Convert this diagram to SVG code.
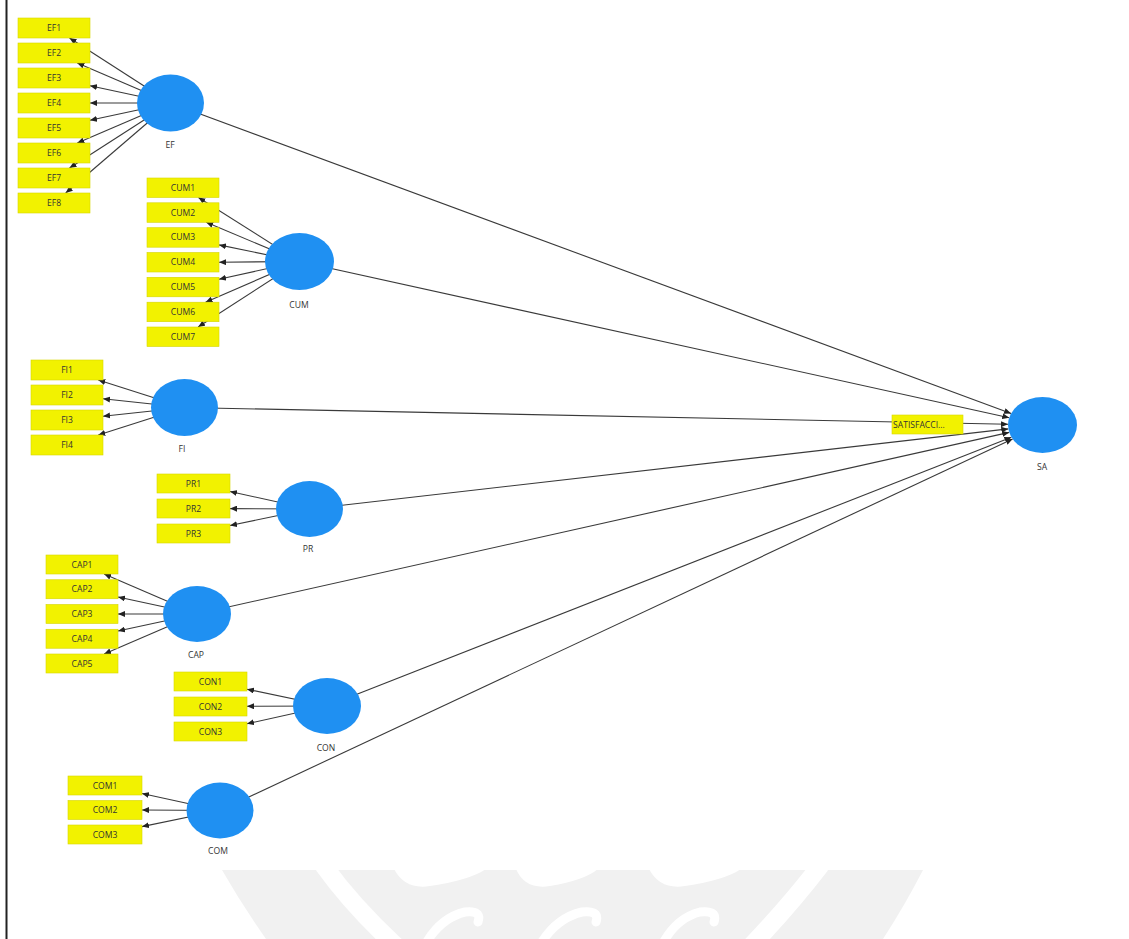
<svg xmlns="http://www.w3.org/2000/svg" width="1129" height="939" viewBox="0 0 1129 939">
  <style>
    .ind rect { fill: #f2f200; stroke: #d6d600; stroke-width: 0.6; }
    .ind text, .lat text { font-family: "Open Sans", "Noto Sans", sans-serif; font-size: 8.6px; fill: #333; text-anchor: middle; }
    .lat ellipse { fill: #1f90f2; }
    #connectors line { stroke: #3a3a3a; stroke-width: 1.1; marker-end: url(#arrow); }
    .wm { fill: #f1f1f1; }
    .wmw { fill: none; stroke: #ffffff; stroke-linecap: round; }
  </style>
  <defs>
    <marker id="arrow" markerUnits="userSpaceOnUse" markerWidth="7" markerHeight="6" refX="7" refY="3" orient="auto">
      <path d="M0,0 L7,3 L0,6 z" fill="#222"/>
    </marker>
  </defs>

  <rect x="0" y="0" width="1129" height="939" fill="#ffffff"/>

  <!-- faint background emblem at the bottom -->
  <g id="emblem">
    <path class="wm" d="M222,870 L923,870 Q905,905 883,939 L266,939 Q242,905 222,870 z"/>
    <path class="wmw" stroke-width="18" d="M324,866 Q352,905 395,945"/>
    <path class="wmw" stroke-width="18" d="M820,866 Q790,905 752,945"/>
    <path fill="#ffffff" d="M394,869 Q405,890 430,886 Q470,880 486,869 z"/>
    <path fill="#ffffff" d="M516,869 Q525,890 550,886 Q585,880 598,869 z"/>
    <path fill="#ffffff" d="M649,869 Q660,890 685,886 Q725,880 741,869 z"/>
    <path class="wmw" stroke-width="9" d="M425,945 Q440,918 465,912 Q482,910 478,922"/>
    <path class="wmw" stroke-width="9" d="M540,945 Q556,918 582,912 Q600,910 596,922"/>
    <path class="wmw" stroke-width="9" d="M662,945 Q676,918 700,912 Q718,910 714,922"/>
  </g>

  <!-- frame edge -->
  <line x1="6.5" y1="0" x2="6.5" y2="939" stroke="#222" stroke-width="2"/>

  <g id="connectors">
    <!-- EF loadings -->
    <line x1="170.5" y1="103" x2="69.5" y2="38"/>
    <line x1="170.5" y1="103" x2="77.3" y2="63"/>
    <line x1="170.5" y1="103" x2="90" y2="85.7"/>
    <line x1="170.5" y1="103" x2="90" y2="103"/>
    <line x1="170.5" y1="103" x2="90" y2="120.3"/>
    <line x1="170.5" y1="103" x2="77.3" y2="143"/>
    <line x1="170.5" y1="103" x2="69.5" y2="168"/>
    <line x1="170.5" y1="103" x2="65.7" y2="193"/>
    <!-- CUM loadings -->
    <line x1="299.5" y1="261.5" x2="198.4" y2="197.5"/>
    <line x1="299.5" y1="261.5" x2="206.2" y2="222.3"/>
    <line x1="299.5" y1="261.5" x2="219" y2="244.9"/>
    <line x1="299.5" y1="261.5" x2="219" y2="262.2"/>
    <line x1="299.5" y1="261.5" x2="219" y2="279.2"/>
    <line x1="299.5" y1="261.5" x2="205.5" y2="302.2"/>
    <line x1="299.5" y1="261.5" x2="198.1" y2="327"/>
    <!-- FI loadings -->
    <line x1="184.5" y1="407.5" x2="98.3" y2="380"/>
    <line x1="184.5" y1="407.5" x2="103" y2="398.8"/>
    <line x1="184.5" y1="407.5" x2="103" y2="416.2"/>
    <line x1="184.5" y1="407.5" x2="98.3" y2="435"/>
    <!-- PR loadings -->
    <line x1="309.5" y1="509" x2="230" y2="491.5"/>
    <line x1="309.5" y1="509" x2="230" y2="508.6"/>
    <line x1="309.5" y1="509" x2="230" y2="525.5"/>
    <!-- CAP loadings -->
    <line x1="197" y1="614" x2="104.1" y2="574"/>
    <line x1="197" y1="614" x2="118" y2="597"/>
    <line x1="197" y1="614" x2="118" y2="614"/>
    <line x1="197" y1="614" x2="118" y2="631"/>
    <line x1="197" y1="614" x2="104.1" y2="654"/>
    <!-- CON loadings -->
    <line x1="327" y1="706" x2="247" y2="689.2"/>
    <line x1="327" y1="706" x2="247" y2="706.3"/>
    <line x1="327" y1="706" x2="247" y2="723.8"/>
    <!-- COM loadings -->
    <line x1="220" y1="810.5" x2="142" y2="793.5"/>
    <line x1="220" y1="810.5" x2="142" y2="810"/>
    <line x1="220" y1="810.5" x2="142" y2="826.6"/>
    <!-- structural paths into SA -->
    <line x1="170.5" y1="103" x2="1011.1" y2="413.4"/>
    <line x1="299.5" y1="261.5" x2="1009.2" y2="417.7"/>
    <line x1="184.5" y1="407.5" x2="1008" y2="424.3"/>
    <line x1="309.5" y1="509" x2="1008.3" y2="428.9"/>
    <line x1="197" y1="614" x2="1009.2" y2="432.4"/>
    <line x1="327" y1="706" x2="1011.4" y2="437.2"/>
    <line x1="220" y1="810.5" x2="1012.6" y2="439"/>
  </g>

  <!-- EF -->
  <g id="EF" class="lat">
    <ellipse cx="170.5" cy="103" rx="33.5" ry="28.5"/>
    <text x="170" y="148">EF</text>
  </g>
  <g id="EF-items" class="ind">
    <rect x="18" y="18" width="72" height="20"/><text x="54" y="31">EF1</text>
    <rect x="18" y="43" width="72" height="20"/><text x="54" y="56">EF2</text>
    <rect x="18" y="68" width="72" height="20"/><text x="54" y="81">EF3</text>
    <rect x="18" y="93" width="72" height="20"/><text x="54" y="106">EF4</text>
    <rect x="18" y="118" width="72" height="20"/><text x="54" y="131">EF5</text>
    <rect x="18" y="143" width="72" height="20"/><text x="54" y="156">EF6</text>
    <rect x="18" y="168" width="72" height="20"/><text x="54" y="181">EF7</text>
    <rect x="18" y="193" width="72" height="20"/><text x="54" y="206">EF8</text>
  </g>

  <!-- CUM -->
  <g id="CUM" class="lat">
    <ellipse cx="299.5" cy="261.5" rx="34.5" ry="28.5"/>
    <text x="299" y="308">CUM</text>
  </g>
  <g id="CUM-items" class="ind">
    <rect x="147" y="178" width="72" height="19.5"/><text x="183" y="190.8">CUM1</text>
    <rect x="147" y="202.8" width="72" height="19.5"/><text x="183" y="215.6">CUM2</text>
    <rect x="147" y="227.7" width="72" height="19.5"/><text x="183" y="240.4">CUM3</text>
    <rect x="147" y="252.5" width="72" height="19.5"/><text x="183" y="265.3">CUM4</text>
    <rect x="147" y="277.3" width="72" height="19.5"/><text x="183" y="290.1">CUM5</text>
    <rect x="147" y="302.2" width="72" height="19.5"/><text x="183" y="314.9">CUM6</text>
    <rect x="147" y="327" width="72" height="19.5"/><text x="183" y="339.8">CUM7</text>
  </g>

  <!-- FI -->
  <g id="FI" class="lat">
    <ellipse cx="184.5" cy="407.5" rx="33.5" ry="28.5"/>
    <text x="182" y="452">FI</text>
  </g>
  <g id="FI-items" class="ind">
    <rect x="31" y="360" width="72" height="20"/><text x="67" y="373">FI1</text>
    <rect x="31" y="385" width="72" height="20"/><text x="67" y="398">FI2</text>
    <rect x="31" y="410" width="72" height="20"/><text x="67" y="423">FI3</text>
    <rect x="31" y="435" width="72" height="20"/><text x="67" y="448">FI4</text>
  </g>

  <!-- PR -->
  <g id="PR" class="lat">
    <ellipse cx="309.5" cy="509" rx="33.5" ry="28"/>
    <text x="308" y="552">PR</text>
  </g>
  <g id="PR-items" class="ind">
    <rect x="157" y="474" width="73" height="19"/><text x="193.5" y="486.5">PR1</text>
    <rect x="157" y="499" width="73" height="19"/><text x="193.5" y="511.5">PR2</text>
    <rect x="157" y="524" width="73" height="19"/><text x="193.5" y="536.5">PR3</text>
  </g>

  <!-- CAP -->
  <g id="CAP" class="lat">
    <ellipse cx="197" cy="614" rx="34" ry="28"/>
    <text x="196" y="658">CAP</text>
  </g>
  <g id="CAP-items" class="ind">
    <rect x="46" y="555" width="72" height="19"/><text x="82" y="567.5">CAP1</text>
    <rect x="46" y="579.75" width="72" height="19"/><text x="82" y="592.3">CAP2</text>
    <rect x="46" y="604.5" width="72" height="19"/><text x="82" y="617">CAP3</text>
    <rect x="46" y="629.25" width="72" height="19"/><text x="82" y="641.8">CAP4</text>
    <rect x="46" y="654" width="72" height="19"/><text x="82" y="666.5">CAP5</text>
  </g>

  <!-- CON -->
  <g id="CON" class="lat">
    <ellipse cx="327" cy="706" rx="34" ry="28"/>
    <text x="326" y="751">CON</text>
  </g>
  <g id="CON-items" class="ind">
    <rect x="174" y="672" width="73" height="19"/><text x="210.5" y="684.5">CON1</text>
    <rect x="174" y="697" width="73" height="19"/><text x="210.5" y="709.5">CON2</text>
    <rect x="174" y="722" width="73" height="19"/><text x="210.5" y="734.5">CON3</text>
  </g>

  <!-- COM -->
  <g id="COM" class="lat">
    <ellipse cx="220" cy="810.5" rx="33.5" ry="28"/>
    <text x="218" y="854">COM</text>
  </g>
  <g id="COM-items" class="ind">
    <rect x="68" y="776" width="74" height="19"/><text x="105" y="788.5">COM1</text>
    <rect x="68" y="800.5" width="74" height="19"/><text x="105" y="813">COM2</text>
    <rect x="68" y="825" width="74" height="19"/><text x="105" y="837.5">COM3</text>
  </g>

  <!-- SA -->
  <g id="SA" class="lat">
    <ellipse cx="1042.5" cy="425" rx="34.5" ry="28"/>
    <text x="1042" y="470">SA</text>
  </g>
  <g id="SA-items" class="ind">
    <rect x="892" y="415" width="71" height="19"/>
    <text x="893" y="427.5" style="text-anchor: start">SATISFACCI...</text>
  </g>
</svg>
